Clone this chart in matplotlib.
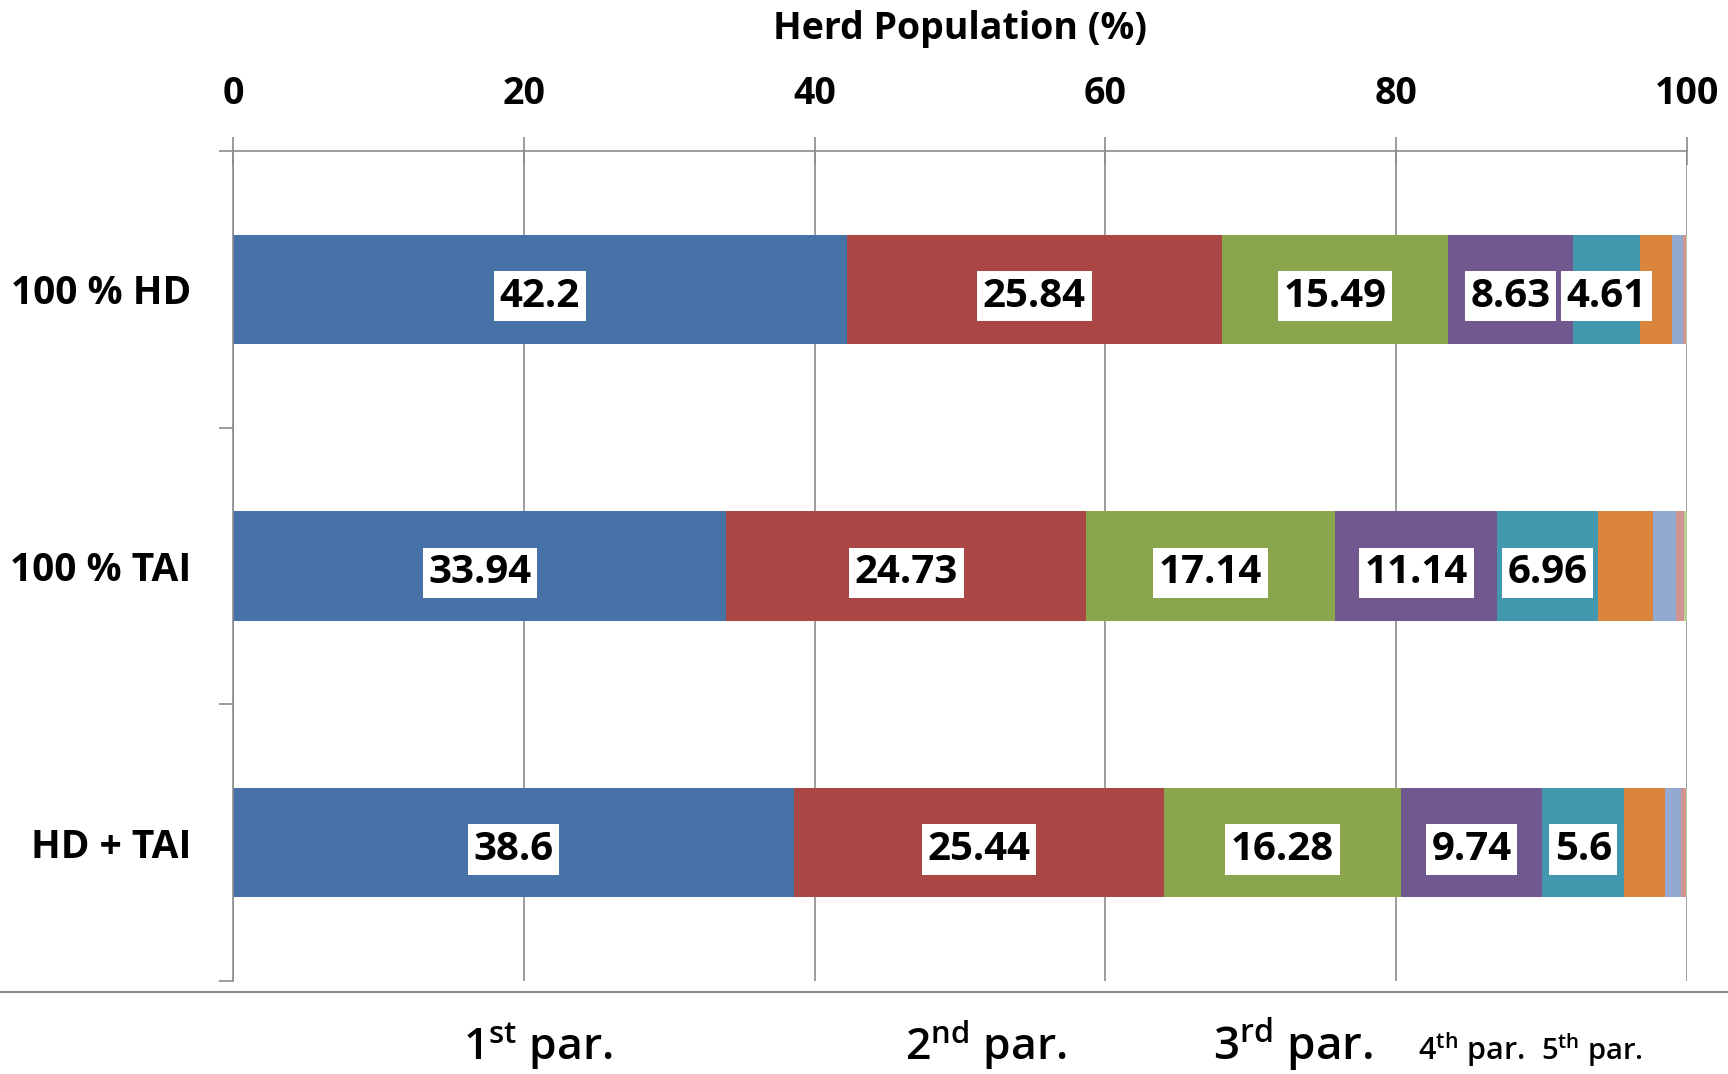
import numpy as np, matplotlib
matplotlib.use('Agg'); import matplotlib.pyplot as plt
from matplotlib.lines import Line2D

plt.rcParams.update({'font.family':['Open Sans','DejaVu Sans'],
                     'mathtext.fontset':'custom','mathtext.rm':'Open Sans:semibold',
                     'mathtext.it':'Open Sans','mathtext.bf':'Open Sans:bold'})

groups = ["100 % HD", "100 % TAI", "HD + TAI"]
parity = ["1st", "2nd", "3rd", "4th", "5th", "6th", "7th", "8th", "9th"]
hd     = [42.2, 25.84, 15.49, 8.63, 4.61, 2.2, 0.78, 0.15, 0.10]
tai    = [33.94, 24.73, 17.14, 11.14, 6.96, 3.78, 1.52, 0.60, 0.19]
hd_tai = [38.6, 25.44, 16.28, 9.74, 5.6, 2.85, 1.08, 0.32, 0.09]
legend_names = [r"1$^{\rm st}$ par.", r"2$^{\rm nd}$ par.", r"3$^{\rm rd}$ par.",
                r"4$^{\rm th}$ par.", r"5$^{\rm th}$ par."]
colors = ["#4672A7", "#AA4643", "#89A54E", "#71588F", "#4198AF",
          "#DB843D", "#93A9CF", "#D19392", "#B9CD96"]
GRID = "#8C8C8C"

data = np.array([hd, tai, hd_tai])
fig = plt.figure(figsize=(17.28, 10.74), dpi=100)
ax = fig.add_axes([233/1728, 1-981/1074, 1454/1728, 830/1074])

y = np.arange(len(groups))
left = np.zeros(len(groups))
for i in range(data.shape[1]):
    vals = data[:, i]
    ax.barh(y, vals, left=left, height=0.395, color=colors[i], edgecolor='none', zorder=2)
    if i < 5:
        for yy, l, v in zip(y, left, vals):
            ax.text(l + v/2, yy + 0.008, str(v), ha='center', va='center_baseline', fontsize=29,
                    fontweight='bold', color='black', zorder=4,
                    bbox=dict(boxstyle='square,pad=0.14', fc='white', ec='none'))
    left += vals

ax.set_xlim(0, 100); ax.set_ylim(2.5, -0.5)
ax.xaxis.tick_top()
ax.set_xticks(np.arange(0, 101, 20))
ax.tick_params(axis='x', direction='inout', length=20, width=1.2, color=GRID,
               labelsize=27, pad=17)
for t in ax.get_xticklabels(): t.set_fontweight('bold')
ax.xaxis.set_label_position('top')
ax.set_xlabel("Herd Population (%)", fontsize=27, fontweight='bold', labelpad=26)

ax.set_yticks(y)
ax.set_yticklabels(groups, fontsize=28, fontweight='bold')
ax.tick_params(axis='y', length=0, pad=30)
ax.set_yticks([-0.5, 0.5, 1.5, 2.5], minor=True)
ax.tick_params(axis='y', which='minor', direction='out', length=10, width=1.2, color=GRID)

ax.grid(axis='x', color=GRID, lw=1.2, zorder=0)
ax.set_axisbelow(True)
for s in ['right', 'bottom']: ax.spines[s].set_visible(False)
for s in ['left', 'top']:
    ax.spines[s].set_color(GRID); ax.spines[s].set_linewidth(1.2)

fig.add_artist(Line2D([0, 1], [1-992/1074]*2, color=GRID, lw=1.5))

leg_x = [538, 986, 1293, 1471, 1592]
leg_size = [32, 32, 33, 22, 21]
for name, xx, fs in zip(legend_names, leg_x, leg_size):
    fig.text(xx/1728, 1-1060/1074, name, ha='center', va='baseline', fontsize=fs,
             fontweight='semibold', color='black')

fig.savefig("out.png", dpi=100)
